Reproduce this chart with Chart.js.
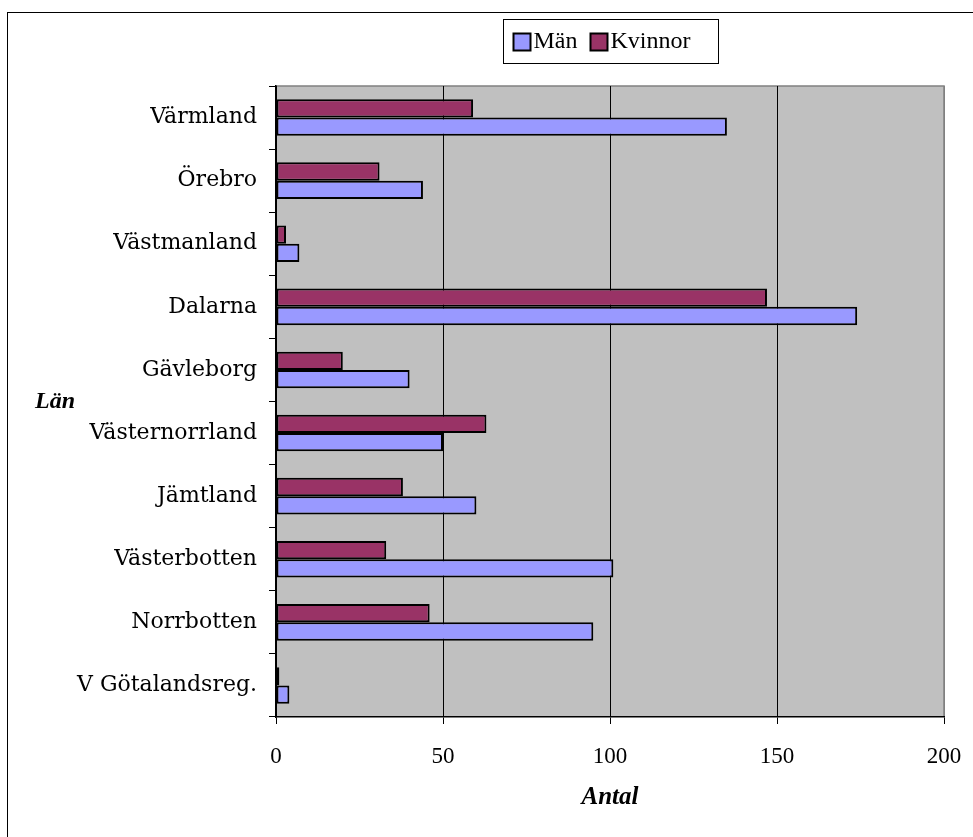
<!DOCTYPE html>
<html>
<head>
<meta charset="utf-8">
<script src="https://cdn.jsdelivr.net/npm/chart.js@4/dist/chart.umd.min.js"></script>
<style>
  html, body { margin: 0; padding: 0; background: #fff; overflow: hidden; }
  #wrap { position: relative; width: 973px; height: 837px; }
  #frame { position: absolute; left: 7px; top: 12px; width: 1000px; height: 900px;
           border-left: 1px solid #000; border-top: 1px solid #000; box-sizing: border-box; pointer-events: none; }
  canvas { position: absolute; left: 0; top: 0; }
</style>
</head>
<body>
<div id="wrap">
  <canvas id="c" width="973" height="837"></canvas>
  <div id="frame"></div>
</div>
<script>
const categories = ["Värmland", "Örebro", "Västmanland", "Dalarna", "Gävleborg", "Västernorrland", "Jämtland", "Västerbotten", "Norrbotten", "V Götalandsreg."];
const man = [135, 44, 7, 174, 40, 50, 60, 101, 95, 4];
const kvinnor = [59, 31, 3, 147, 20, 63, 38, 33, 46, 1];
const seriesNames = ["Män", "Kvinnor"];
const seriesColors = ["#9999FF", "#993366"];
const xTicks = [0, 50, 100, 150, 200];
const xTitle = "Antal";
const yTitle = "Län";

const plotBg = {
  id: 'plotBg',
  beforeDraw(chart) {
    const {ctx, chartArea: a} = chart;
    ctx.save();
    ctx.fillStyle = '#C0C0C0';
    ctx.fillRect(a.left, a.top, a.right - a.left, a.bottom - a.top);
    ctx.strokeStyle = '#808080';
    ctx.lineWidth = 1.5;
    ctx.beginPath();
    ctx.moveTo(a.left, a.top); ctx.lineTo(a.right, a.top); ctx.lineTo(a.right, a.bottom);
    ctx.stroke();
    ctx.restore();
  },
  afterDraw(chart) {
    const {ctx, chartArea: a} = chart;
    ctx.save();
    // y-axis title, horizontal
    ctx.font = 'italic bold 24px "Liberation Serif"';
    ctx.fillStyle = '#000';
    ctx.textAlign = 'left';
    ctx.textBaseline = 'middle';
    ctx.fillText(yTitle, 35, (a.top + a.bottom) / 2);
    // legend box centred over the plot area
    const cx = (a.left + a.right) / 2;
    const boxW = 215, boxH = 44, top = 19;
    const left = Math.round(cx - boxW / 2) + 0.5;
    ctx.fillStyle = '#fff';
    ctx.fillRect(left, top + 0.5, boxW, boxH);
    ctx.strokeStyle = '#000';
    ctx.lineWidth = 1;
    ctx.strokeRect(left, top + 0.5, boxW, boxH);
    ctx.font = '24px "Liberation Serif"';
    ctx.textBaseline = 'middle';
    let x = left + 10;
    const cy = top + boxH / 2 + 1;
    seriesNames.forEach((n, i) => {
      ctx.fillStyle = seriesColors[i];
      ctx.fillRect(x, cy - 8.5, 17, 17);
      ctx.lineWidth = 2;
      ctx.strokeStyle = '#000';
      ctx.strokeRect(x, cy - 8.5, 17, 17);
      ctx.fillStyle = '#000';
      ctx.fillText(n, x + 20, cy);
      x += 20 + ctx.measureText(n).width + 13;
    });
    ctx.restore();
  }
};

new Chart(document.getElementById('c'), {
  type: 'bar',
  data: {
    labels: categories,
    datasets: [
      { label: seriesNames[1], data: kvinnor, backgroundColor: seriesColors[1], borderColor: '#000', borderWidth: 2, borderSkipped: false },
      { label: seriesNames[0], data: man, backgroundColor: seriesColors[0], borderColor: '#000', borderWidth: 2, borderSkipped: false }
    ]
  },
  options: {
    indexAxis: 'y',
    responsive: false,
    animation: false,
    layout: { padding: { left: 0, right: 29, top: 86, bottom: 0 } },
    datasets: { bar: { barPercentage: 1.0, categoryPercentage: 0.58 } },
    plugins: { legend: { display: false }, tooltip: { enabled: false } },
    scales: {
      x: {
        type: 'linear', min: 0, max: 200,
        afterBuildTicks: (s) => { s.ticks = xTicks.map(v => ({ value: v })); },
        afterFit: (s) => { s.height = 120; s.paddingLeft = 0; s.paddingRight = 0; },
        grid: {
          color: (c) => (c.tick && c.tick.value === 200) ? '#808080' : '#000',
          tickColor: '#000', tickLength: 7, lineWidth: 1
        },
        border: { color: '#000', width: 1.5 },
        ticks: { font: { family: 'Liberation Serif', size: 23 }, color: '#000', padding: 19, maxRotation: 0 },
        title: { display: true, text: xTitle, color: '#000',
                 font: { family: 'Liberation Serif', size: 25, style: 'italic', weight: 'bold' },
                 padding: { top: 0, bottom: 24 } }
      },
      y: {
        type: 'category',
        afterFit: (s) => { s.width = 276; s.paddingTop = 0; s.paddingBottom = 0; },
        grid: { offset: true, drawOnChartArea: false, color: '#000', tickLength: 7, lineWidth: 1 },
        border: { color: '#000', width: 1.5 },
        ticks: { font: { family: 'DejaVu Serif', size: 22 }, color: '#000', padding: 12, autoSkip: false }
      }
    }
  },
  plugins: [plotBg]
});
</script>
</body>
</html>
